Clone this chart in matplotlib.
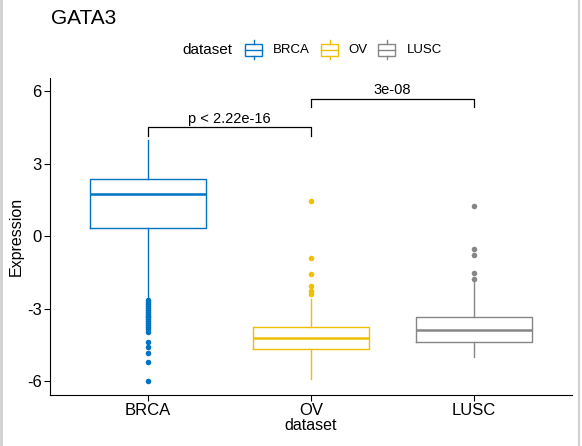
import matplotlib
matplotlib.use('Agg')
import matplotlib.pyplot as plt
from matplotlib.lines import Line2D
from matplotlib.patches import Rectangle

plt.rcParams['font.family'] = ['Liberation Sans', 'DejaVu Sans']

# data
groups = ['BRCA', 'OV', 'LUSC']
colors = ['#0073C2', '#EFC000', '#868686']
med = [1.76, -4.20, -3.88]
q1 = [0.36, -4.68, -4.39]
q3 = [2.38, -3.77, -3.36]
whislo = [-2.56, -5.92, -5.01]
whishi = [3.97, -2.58, -1.82]
brca_out = [-2.64, -2.72, -2.80, -2.88, -2.96, -3.04, -3.12, -3.20, -3.28, -3.36,
            -3.44, -3.52, -3.60, -3.68, -3.76, -3.84, -3.95,
            -4.37, -4.57, -4.85, -5.19, -5.99]
ov_out = [1.45, -0.92, -1.58, -2.05, -2.27, -2.37]
lusc_out = [1.24, -0.51, -0.76, -1.54, -1.75]
outliers = [brca_out, ov_out, lusc_out]

comparisons = [(1, 2, 4.52, 'p < 2.22e-16'), (2, 3, 5.70, '3e-08')]

W, H = 582, 446
fig = plt.figure(figsize=(W/100, H/100), dpi=100)
ax = fig.add_axes([50/W, 1-395/H, 522/W, 317/H])

for i in range(3):
    c = colors[i]
    st = dict(med=med[i], q1=q1[i], q3=q3[i], whislo=whislo[i],
              whishi=whishi[i], fliers=[], label=groups[i])
    ax.bxp([st], positions=[i+1], widths=0.71, showfliers=False,
           boxprops=dict(color=c, linewidth=1.0),
           medianprops=dict(color=c, linewidth=1.8),
           whiskerprops=dict(color=c, linewidth=1.0),
           capprops=dict(linewidth=0), manage_ticks=False)
    ax.plot([i+1]*len(outliers[i]), outliers[i], 'o', color=c, markersize=4,
            markeredgewidth=0, linestyle='none')

for a, b, y, txt in comparisons:
    ax.plot([a, a, b, b], [y-0.37, y, y, y-0.37], color='black', linewidth=0.9)
    ax.text((a+b)/2, y+0.05, txt, ha='center', va='bottom', fontsize=10.5)

ax.set_xlim(0.4, 3.6)
ax.set_ylim(-6.57, 6.55)
ax.set_xticks([1, 2, 3])
ax.set_xticklabels(groups, fontsize=12)
ax.set_yticks([-6, -3, 0, 3, 6])
ax.set_yticklabels(['-6', '-3', '0', '3', '6'], fontsize=12)
ax.set_xlabel('dataset', fontsize=11.5, labelpad=0)
ax.set_ylabel('Expression', fontsize=11.5, labelpad=2)
ax.spines['top'].set_visible(False)
ax.spines['right'].set_visible(False)
ax.tick_params(direction='out', length=4, width=0.8, colors='black')
ax.tick_params(axis='y', pad=2)
ax.tick_params(axis='x', pad=2)


def px(x, y):
    return x / W, 1 - y / H


# legend drawn by hand: title, glyphs, labels
fig.text(*px(182, 50), 'dataset', fontsize=11, ha='left', va='center')
glyph_x = [245, 321, 378]
label_x = [273, 348, 407]
for gx, lx, c, g in zip(glyph_x, label_x, colors, groups):
    x0, y0 = px(gx, 56)
    x1, y1 = px(gx + 17, 44)
    fig.add_artist(Rectangle((x0, y0), x1 - x0, y1 - y0, fill=False, edgecolor=c,
                             lw=1.0, transform=fig.transFigure))
    fig.add_artist(Line2D([x0, x1], [(y0 + y1) / 2] * 2, color=c, lw=1.0,
                          transform=fig.transFigure))
    xm = (x0 + x1) / 2
    fig.add_artist(Line2D([xm, xm], [y1, px(0, 40)[1]], color=c, lw=1.0,
                          transform=fig.transFigure))
    fig.add_artist(Line2D([xm, xm], [y0, px(0, 59)[1]], color=c, lw=1.0,
                          transform=fig.transFigure))
    fig.text(*px(lx, 50), g, fontsize=9.5, ha='left', va='center')

fig.text(*px(51, 19), 'GATA3', fontsize=15, ha='left', va='center')

fig.add_artist(Line2D([0.002, 0.002], [0, 1], color='#d0d0d0', lw=2, transform=fig.transFigure))
fig.add_artist(Line2D([0.994, 0.994], [0, 1], color='#d0d0d0', lw=1.5, transform=fig.transFigure))

fig.savefig('out.png', dpi=100)
